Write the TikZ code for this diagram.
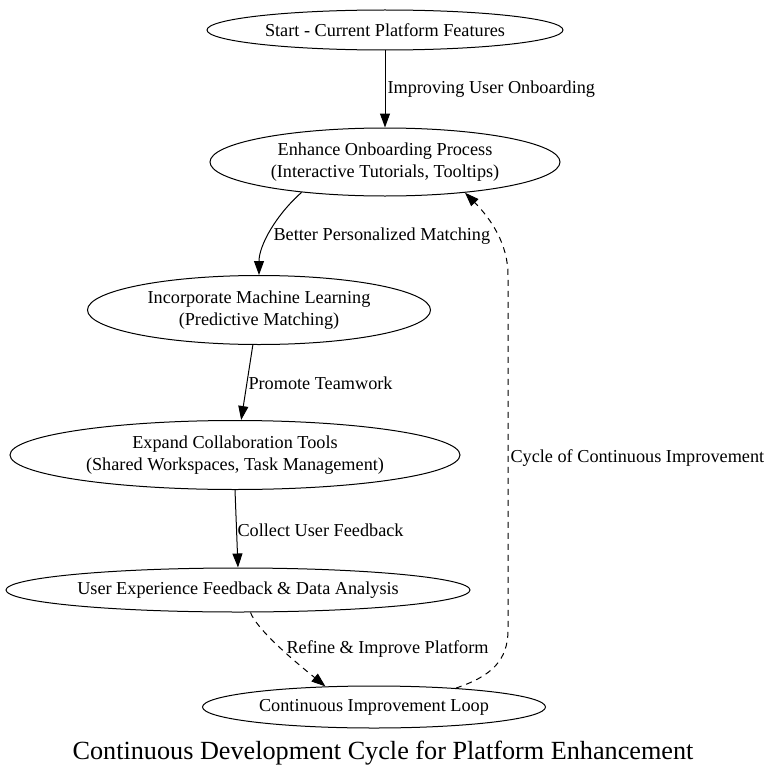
\documentclass[tikz,border=0pt]{standalone}
\usepackage{fontspec}
\setmainfont{Liberation Serif}
\usetikzlibrary{arrows.meta,shapes.geometric}
\begin{document}
\begin{tikzpicture}[>={Triangle[length=14bp,width=10bp]},x=1bp,y=-1bp,line width=1bp,
	stage/.style={draw,ellipse,inner sep=0pt,align=center,font=\fontsize{18.3}{22}\selectfont},
	lbl/.style={anchor=west,inner sep=0pt,font=\fontsize{18.3}{22}\selectfont},
	dashedge/.style={dash pattern=on 6bp off 5bp}]
	\def\titlesize{26.3} % co chu tieu de
	\useasboundingbox (0,0) rectangle (768,777);
	% cac buoc
	\node[stage,minimum width=356bp,minimum height=40bp] (start) at (385,30) {Start - Current Platform Features};
	\node[stage,minimum width=350bp,minimum height=68bp] (onb) at (385,162) {Enhance Onboarding Process\\(Interactive Tutorials, Tooltips)};
	\node[stage,minimum width=343bp,minimum height=69bp] (ml) at (259,310) {Incorporate Machine Learning\\(Predictive Matching)};
	\node[stage,minimum width=450bp,minimum height=69bp] (collab) at (235,455) {Expand Collaboration Tools\\(Shared Workspaces, Task Management)};
	\node[stage,minimum width=464bp,minimum height=44bp] (fb) at (238,590) {User Experience Feedback \& Data Analysis};
	\node[stage,minimum width=343bp,minimum height=42bp] (cil) at (374,707) {Continuous Improvement Loop};
	\node[font=\fontsize{\titlesize}{30}\selectfont] (title) at (383,753) {Continuous Development Cycle for Platform Enhancement};
	% cac mui ten
	\draw[->] (start) -- (onb);
	\draw[->] (onb.200) .. controls +(-25,22) and +(0,-30) .. (ml.north);
	\draw[->] (ml.260) -- (collab.80);
	\draw[->] (collab.south) -- (fb.north);
	\draw[->,dashedge] (fb.299) .. controls +(8,20) and +(-22,-18) .. (cil.157);
	\draw[->,dashedge] (cil.13) .. controls (492,676) and (508,660) .. (508,630) -- (508,275) .. controls (508,245) and (492,220) .. (onb.339);
	% nhan
	\node[lbl] (l1) at (387,89) {Improving User Onboarding};
	\node[lbl] (l2) at (273,236) {Better Personalized Matching};
	\node[lbl] (l3) at (248,383) {Promote Teamwork};
	\node[lbl] (l4) at (237,530) {Collect User Feedback};
	\node[lbl] (l5) at (286,649) {Refine \& Improve Platform};
	\node[lbl] (l6) at (510,458) {Cycle of Continuous Improvement};
\end{tikzpicture}
\end{document}
